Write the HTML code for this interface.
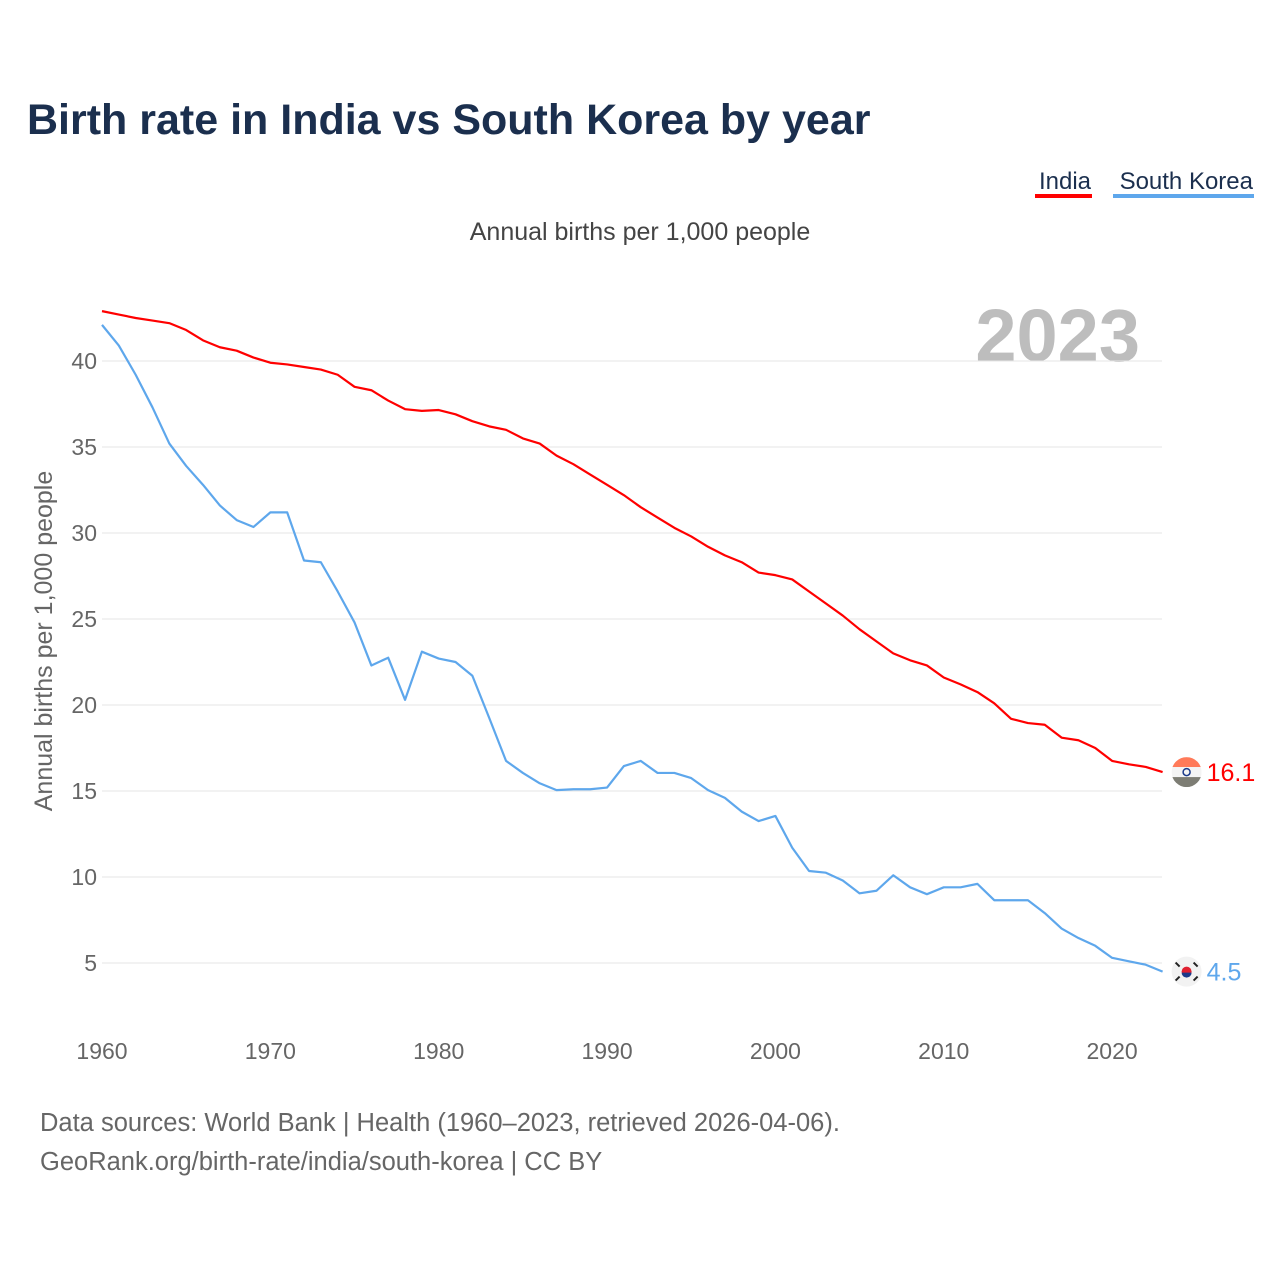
<!DOCTYPE html>
<html><head><meta charset="utf-8"><style>
body{margin:0;background:#fff;width:1280px;height:1280px;overflow:hidden;font-family:"Liberation Sans",sans-serif}
</style></head><body>
<svg width="1280" height="1280" xmlns="http://www.w3.org/2000/svg" font-family="Liberation Sans, sans-serif">
<text x="27" y="134" font-size="43" font-weight="bold" fill="#1b2f4e">Birth rate in India vs South Korea by year</text>
<g><text x="1091" y="189" font-size="24" fill="#1b2f4e" text-anchor="end">India</text><rect x="1035" y="194" width="57" height="4" fill="#ff0000"/></g>
<g><text x="1253" y="189" font-size="24" fill="#1b2f4e" text-anchor="end">South Korea</text><rect x="1113" y="194" width="141" height="4" fill="#5ea7ec"/></g>
<text x="640" y="240" font-size="25" fill="#444" text-anchor="middle">Annual births per 1,000 people</text>
<text x="1140" y="361" font-size="74" font-weight="bold" fill="#bdbdbd" text-anchor="end">2023</text>
<text transform="translate(52,641) rotate(-90)" font-size="25" fill="#666" text-anchor="middle">Annual births per 1,000 people</text>
<g id="grid"></g><g id="yticks"></g><g id="xticks"></g><g id="lines"></g>
<text x="40" y="1131" font-size="25.5" fill="#666">Data sources: World Bank | Health (1960–2023, retrieved 2026-04-06).</text>
<text x="40" y="1170" font-size="25.5" fill="#666">GeoRank.org/birth-rate/india/south-korea | CC BY</text>
</svg>
<script>
const years=[];for(let y=1960;y<=2023;y++)years.push(y);
const india=[42.9,42.7,42.5,42.35,42.2,41.8,41.2,40.8,40.6,40.2,39.9,39.8,39.65,39.5,39.2,38.5,38.3,37.7,37.2,37.1,37.15,36.9,36.5,36.2,36.0,35.5,35.2,34.5,34.0,33.4,32.8,32.2,31.5,30.9,30.3,29.8,29.2,28.7,28.3,27.7,27.55,27.3,26.6,25.9,25.2,24.4,23.7,23.0,22.6,22.3,21.6,21.2,20.75,20.1,19.2,18.95,18.85,18.1,17.95,17.5,16.75,16.55,16.4,16.1];
const korea=[42.1,40.9,39.2,37.3,35.2,33.9,32.8,31.6,30.75,30.35,31.2,31.2,28.4,28.3,26.6,24.8,22.3,22.75,20.3,23.1,22.7,22.5,21.7,19.25,16.75,16.05,15.45,15.05,15.1,15.1,15.2,16.45,16.75,16.05,16.05,15.75,15.05,14.6,13.8,13.25,13.55,11.7,10.35,10.25,9.8,9.05,9.2,10.1,9.4,9.0,9.4,9.4,9.6,8.65,8.65,8.65,7.9,7.0,6.45,6.0,5.3,5.1,4.9,4.5];
const yTicks=[5,10,15,20,25,30,35,40];
const xTicks=[1960,1970,1980,1990,2000,2010,2020];
const NS="http://www.w3.org/2000/svg";
const xs=y=>102+(y-1960)*16.835, ys=v=>1049-17.2*v;
function mk(t,a,p){const e=document.createElementNS(NS,t);for(const k in a)e.setAttribute(k,a[k]);document.getElementById(p).appendChild(e);return e;}
yTicks.forEach(v=>{
 const l=mk('line',{x1:102,x2:1162,y1:ys(v),y2:ys(v),stroke:'#e6e6e6','stroke-width':1},'grid');
 
 
 const t=mk('text',{x:97,y:ys(v)+8,'font-size':23,fill:'#666','text-anchor':'end'},'yticks');t.textContent=v;
 
 
});
xTicks.forEach(v=>{
 const t=mk('text',{x:xs(v),y:1059,'font-size':23,fill:'#666','text-anchor':'middle'},'xticks');t.textContent=v;
 
 
});
function series(d,c,name,flag){
 const p=mk('polyline',{points:d.map((v,i)=>xs(years[i])+','+ys(v)).join(' '),fill:'none',stroke:c,'stroke-width':2.2,'stroke-linejoin':'round'},'lines');
 
 
 const lx=xs(years[years.length-1]), ly=ys(d[d.length-1]);
 const g=mk('g',{},'lines');
 
 
 if(flag==='in'){
  g.innerHTML=`<clipPath id="ci"><circle cx="${lx+24}" cy="${ly}" r="15"/></clipPath><g clip-path="url(#ci)"><rect x="${lx+9}" y="${ly-15}" width="30" height="10" fill="#ff7a59"/><rect x="${lx+9}" y="${ly-5}" width="30" height="10" fill="#f4f4f4"/><rect x="${lx+9}" y="${ly+5}" width="30" height="10" fill="#7d7d74"/></g><circle cx="${lx+24}" cy="${ly}" r="3.5" fill="none" stroke="#1b3a8a" stroke-width="1.5"/>`;
 } else {
  g.innerHTML=`<circle cx="${lx+24}" cy="${ly}" r="15" fill="#f2f2f2"/><circle cx="${lx+24}" cy="${ly}" r="5" fill="#e02030"/><path d="M${lx+19} ${ly+1} a5 5 0 0 0 10 0z" fill="#1b3a8a"/><g stroke="#222" stroke-width="2"><line x1="${lx+13}" y1="${ly-9}" x2="${lx+17}" y2="${ly-5}"/><line x1="${lx+31}" y1="${ly-9}" x2="${lx+35}" y2="${ly-5}"/><line x1="${lx+13}" y1="${ly+9}" x2="${lx+17}" y2="${ly+5}"/><line x1="${lx+31}" y1="${ly+9}" x2="${lx+35}" y2="${ly+5}"/></g>`;
 }
 const t=mk('text',{x:lx+44,y:ly+9,'font-size':25,fill:c},'lines');t.textContent=d[d.length-1];
 
 
}
series(india,'#ff0000','india','in');
series(korea,'#5ea7ec','south-korea','kr');
</script>
</body></html>
